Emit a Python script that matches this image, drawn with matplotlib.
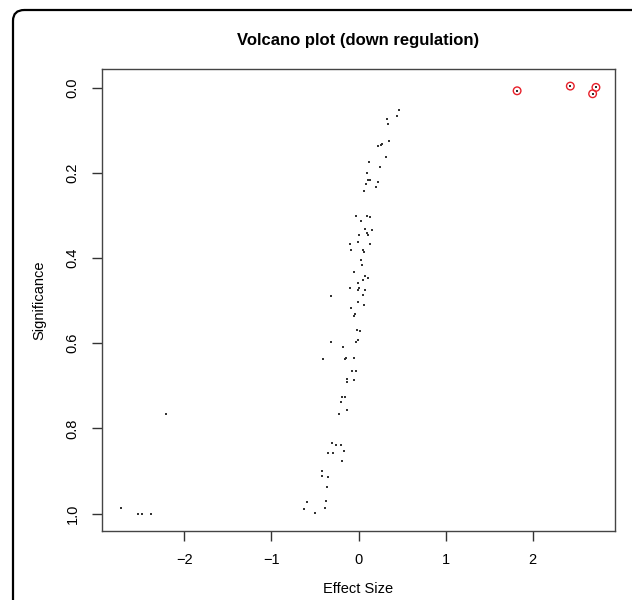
import matplotlib
matplotlib.use("Agg")
import matplotlib.pyplot as plt
from matplotlib.patches import FancyBboxPatch

plt.rcParams['font.family'] = ['Liberation Sans', 'DejaVu Sans']

# effect size (x) and significance (y) of all genes
effect = [0.462, 0.439, 0.332, 0.344, 0.347, 0.267, 0.255, 0.218, 0.321, 0.118,
          0.241, 0.092, 0.111, 0.137, 0.226, 0.088, 0.195, 0.061,
          -0.026, 0.103, 0.134, 0.034, 0.077, 0.152, 0.103, 0.111, 0.008, -0.008,
          0.134, -0.100, -0.084, 0.046, 0.061, 0.031, 0.042, -0.057, 0.080, 0.107,
          0.049, -0.003, 0.011, -0.095, -0.003, 0.080, 0.057, -0.313, -0.003, 0.061,
          -0.084,
          -0.046, -0.057, -0.019, 0.019, -0.003, -0.026, -0.313, -0.175, -0.141,
          -0.049, -0.160, -0.409, -0.072, -0.034, -0.129, -0.057, -0.137, -0.195,
          -0.157, -0.198, -0.129, -0.229,
          -0.301, -0.255, -0.203, -0.164, -0.352, -0.298, -0.195, -0.420, -0.416,
          -0.352, -0.359, -0.592, -0.370, -0.386, -0.627, -0.504,
          -2.211, -2.730, -2.535, -2.482, -2.386,
          1.821, 2.432, 2.726, 2.688]
signif = [0.052, 0.067, 0.074, 0.085, 0.125, 0.132, 0.134, 0.136, 0.163, 0.175,
          0.187, 0.201, 0.217, 0.217, 0.221, 0.225, 0.234, 0.243,
          0.301, 0.300, 0.304, 0.313, 0.332, 0.335, 0.341, 0.346, 0.346, 0.361,
          0.366, 0.366, 0.380, 0.380, 0.386, 0.405, 0.417, 0.433, 0.442, 0.446,
          0.452, 0.458, 0.470, 0.471, 0.476, 0.476, 0.487, 0.488, 0.504, 0.509,
          0.518,
          0.532, 0.537, 0.569, 0.572, 0.593, 0.596, 0.598, 0.608, 0.634,
          0.634, 0.638, 0.638, 0.664, 0.664, 0.683, 0.686, 0.690, 0.726,
          0.726, 0.739, 0.756, 0.765,
          0.835, 0.838, 0.840, 0.853, 0.858, 0.858, 0.876, 0.900, 0.911,
          0.913, 0.938, 0.972, 0.970, 0.986, 0.989, 0.998,
          0.765, 0.987, 1.000, 1.000, 1.000,
          0.007, -0.004, -0.001, 0.014]

# significantly down-regulated genes (circled in red)
sig_effect = [1.821, 2.432, 2.726, 2.688]
sig_signif = [0.007, -0.004, -0.001, 0.014]

xticks = [-2, -1, 0, 1, 2]
yticks = [0.0, 0.2, 0.4, 0.6, 0.8, 1.0]
ytick_labels = ["0.0", "0.2", "0.4", "0.6", "0.8", "1.0"]

fig = plt.figure(figsize=(6.32, 6.00), dpi=100)
ax = fig.add_axes([0.161, 0.1155, 0.812, 0.7695])

ax.scatter(effect, signif, s=1.6, c='#333333', marker='s', linewidths=0)
ax.scatter(sig_effect, sig_signif, s=30, facecolors='none', edgecolors='#e8202a',
           linewidths=1.0)

xmin, xmax = min(effect), max(effect)
w = xmax - xmin
ax.set_xlim(xmin - 0.04 * w, xmax + 0.04 * w)
ymin, ymax = min(signif), max(signif)
h = ymax - ymin
ax.set_ylim(ymax + 0.04 * h, ymin - 0.04 * h)

ax.set_xticks(xticks)
ax.set_xticklabels(["\u2212" + str(-t) if t < 0 else str(t) for t in xticks])
ax.set_yticks(yticks)
ax.set_yticklabels(ytick_labels, rotation=90, va='center')

ax.tick_params(axis='both', direction='out', length=7, width=1, labelsize=10.5,
               color='#333333')
ax.tick_params(axis='x', pad=9)
ax.tick_params(axis='y', pad=9)
for s in ax.spines.values():
    s.set_linewidth(1.0)
    s.set_color('#444444')

ax.set_xlabel("Effect Size", fontsize=10.5, labelpad=11)
ax.set_ylabel("Significance", fontsize=10.5, labelpad=14)

fig.text(0.5 * (0.161 + 0.973), 1 - 40 / 600, "Volcano plot (down regulation)",
         ha='center', va='center', fontsize=12, fontweight='bold')

# outer rounded border (runs off the right and bottom edges)
border = FancyBboxPatch((13 / 632, -0.05), 1.2, 1 - 10 / 600 + 0.05,
                        boxstyle="round,pad=0,rounding_size=0.018",
                        transform=fig.transFigure, fill=False,
                        edgecolor='black', linewidth=1.6)
fig.patches.append(border)

fig.savefig("out.png", dpi=100)
